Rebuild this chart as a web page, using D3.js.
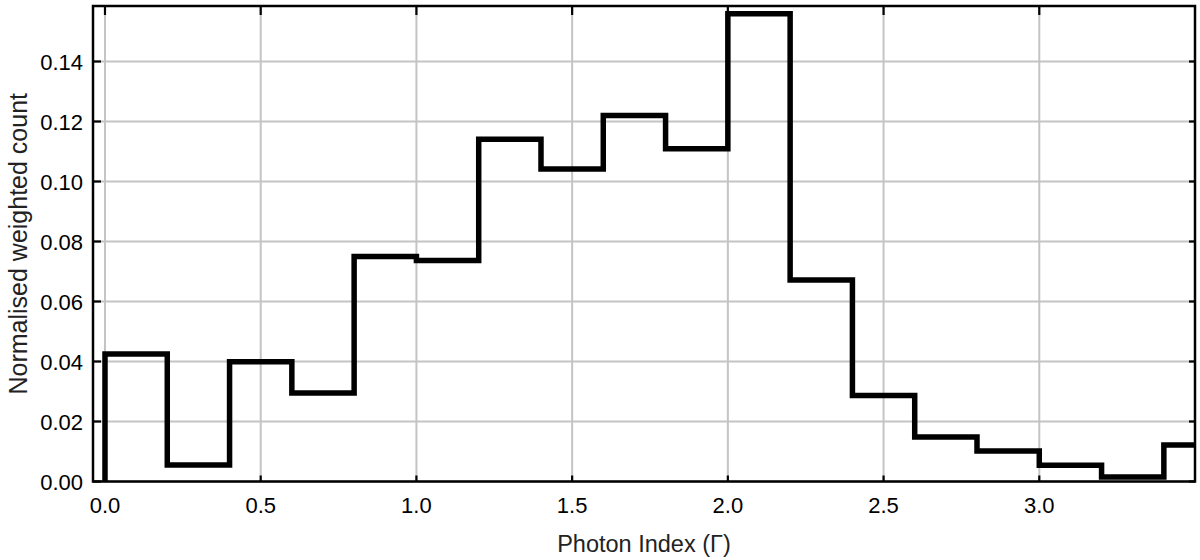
<!DOCTYPE html>
<html>
<head>
<meta charset="utf-8">
<script src="https://cdn.jsdelivr.net/npm/d3@7"></script>
<style>
  body { margin: 0; background: #fff; }
  svg { display: block; font-family: "Liberation Sans", Arial, Helvetica, sans-serif; }
  .grid line { stroke: #c4c4c4; stroke-width: 2; }
  .tick-label { font-size: 22px; fill: #000; }
  .axis-title { fill: #222; }
</style>
</head>
<body>
<svg id="chart" width="1200" height="560"></svg>
<script>
'use strict';

// bin edges start at these values, each bin is 0.2 wide
var binStarts = [0.0, 0.2, 0.4, 0.6, 0.8, 1.0, 1.2, 1.4, 1.6, 1.8,
                 2.0, 2.2, 2.4, 2.6, 2.8, 3.0, 3.2, 3.4];
var counts = [0.0425, 0.0055, 0.0399, 0.0295, 0.0750, 0.0737, 0.1141, 0.1042, 0.1220, 0.1109,
              0.1559, 0.0672, 0.0287, 0.0148, 0.0102, 0.0054, 0.0015, 0.0122];
var binWidth = 0.2;
var xTicks = [0.0, 0.5, 1.0, 1.5, 2.0, 2.5, 3.0];
var yTicks = [0.00, 0.02, 0.04, 0.06, 0.08, 0.10, 0.12, 0.14];

var svg = d3.select('#chart'),
    plotLeft = 93, plotRight = 1195, plotTop = 6, plotBottom = 481.5,
    tickLen = 6;

var x = d3.scaleLinear().domain([-0.0385, 3.5]).range([plotLeft, plotRight]);
var y = d3.scaleLinear().domain([0, 0.1585]).range([plotBottom, plotTop]);

svg.append('clipPath').attr('id', 'plot-clip')
  .append('rect')
  .attr('x', plotLeft).attr('y', plotTop)
  .attr('width', plotRight - plotLeft).attr('height', plotBottom - plotTop);

// grid
var grid = svg.append('g').attr('class', 'grid');
grid.selectAll('line.gx').data(xTicks).enter().append('line')
  .attr('x1', function (d) { return x(d); })
  .attr('x2', function (d) { return x(d); })
  .attr('y1', plotTop).attr('y2', plotBottom);
grid.selectAll('line.gy').data(yTicks).enter().append('line')
  .attr('x1', plotLeft).attr('x2', plotRight)
  .attr('y1', function (d) { return y(d); })
  .attr('y2', function (d) { return y(d); });

// histogram outline (step)
var pts = [[binStarts[0], 0]];
binStarts.forEach(function (b, i) {
  pts.push([b, counts[i]]);
});
var lastEnd = binStarts[binStarts.length - 1] + binWidth;
pts.push([lastEnd, counts[counts.length - 1]]);
pts.push([lastEnd, 0]);

var line = d3.line()
  .x(function (d) { return x(d[0]); })
  .y(function (d) { return y(d[1]); })
  .curve(d3.curveStepAfter);

svg.append('path')
  .attr('clip-path', 'url(#plot-clip)')
  .attr('d', line(pts))
  .attr('fill', 'none')
  .attr('stroke', '#000')
  .attr('stroke-width', 5.5)
  .attr('stroke-linejoin', 'miter');

// inward ticks on all four sides
var axisG = svg.append('g')
  .attr('stroke', '#000').attr('stroke-width', 2.2);
xTicks.forEach(function (t) {
  axisG.append('line').attr('x1', x(t)).attr('x2', x(t))
    .attr('y1', plotBottom).attr('y2', plotBottom - tickLen);
  axisG.append('line').attr('x1', x(t)).attr('x2', x(t))
    .attr('y1', plotTop).attr('y2', plotTop + tickLen + 3);
});
yTicks.forEach(function (t) {
  axisG.append('line').attr('x1', plotLeft).attr('x2', plotLeft + tickLen + 2)
    .attr('y1', y(t)).attr('y2', y(t));
  axisG.append('line').attr('x1', plotRight).attr('x2', plotRight - tickLen)
    .attr('y1', y(t)).attr('y2', y(t));
});

// frame
svg.append('rect')
  .attr('x', plotLeft).attr('y', plotTop)
  .attr('width', plotRight - plotLeft).attr('height', plotBottom - plotTop)
  .attr('fill', 'none').attr('stroke', '#000').attr('stroke-width', 2.5);

// tick labels
svg.selectAll('text.xl').data(xTicks).enter().append('text')
  .attr('class', 'tick-label')
  .attr('x', function (d) { return x(d); })
  .attr('y', 513)
  .attr('text-anchor', 'middle')
  .text(function (d) { return d3.format('.1f')(d); });

svg.selectAll('text.yl').data(yTicks).enter().append('text')
  .attr('class', 'tick-label')
  .attr('x', 83)
  .attr('y', function (d) { return y(d) + 8; })
  .attr('text-anchor', 'end')
  .text(function (d) { return d3.format('.2f')(d); });

// axis titles
svg.append('text').attr('class', 'axis-title')
  .attr('x', (plotLeft + plotRight) / 2).attr('y', 552)
  .attr('text-anchor', 'middle')
  .style('font-size', '23.5px')
  .text('Photon Index (\u0393)');

svg.append('text').attr('class', 'axis-title')
  .attr('transform', 'translate(27,' + ((plotTop + plotBottom) / 2) + ') rotate(-90)')
  .attr('text-anchor', 'middle')
  .style('font-size', '25px')
  .text('Normalised weighted count');
</script>
</body>
</html>
